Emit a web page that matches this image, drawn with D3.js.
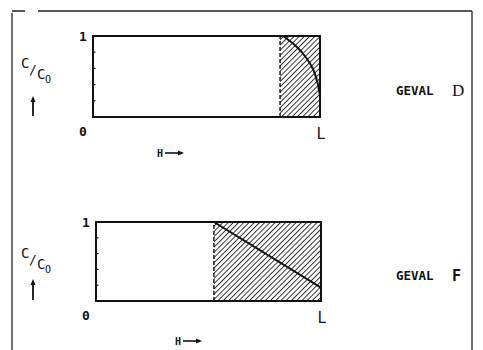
<!DOCTYPE html>
<html>
<head>
<meta charset="utf-8">
<script src="https://cdn.jsdelivr.net/npm/d3@7"></script>
<style>
  html, body { margin: 0; padding: 0; background: #fff; }
  svg { display: block; }
  text { font-family: "DejaVu Sans Mono", "Liberation Mono", monospace; fill: #111; }
</style>
</head>
<body>
<svg id="chart" width="483" height="350"></svg>
<script>
// Case labels for the two panels
const cases = ["D", "F"];
// Start of the hatched zone along H (fraction of L)
const hatchStart = [0.824, 0.524];
// C/C0 profile, case D (h as fraction of L, c as C/C0)
const profileD = [
  [0.838, 1.0], [0.897, 0.868], [0.941, 0.725], [0.971, 0.58],
  [0.988, 0.436], [0.997, 0.312], [1.0, 0.27]
];
// C/C0 profile, case F (straight line)
const profileF = [[0.524, 1.0], [1.0, 0.17]];
// Minor ticks on the C/C0 axis
const minorTicks = [0.2, 0.4, 0.6, 0.8];
// Axis end labels
const yLabels = ["0", "1"];
const xEndLabel = "L";

const svg = d3.select("#chart");
const ink = "#111";

// Hatch pattern "/"
const step = 3.7;
const defs = svg.append("defs");
defs.append("pattern")
  .attr("id", "hatch")
  .attr("patternUnits", "userSpaceOnUse")
  .attr("width", step).attr("height", step)
  .attr("patternTransform", "rotate(45)")
  .append("line")
  .attr("x1", 0.5).attr("y1", 0).attr("x2", 0.5).attr("y2", step)
  .attr("stroke", ink).attr("stroke-width", 0.85);

// Outer frame (top and sides)
const frame = svg.append("g").attr("stroke", "#222").attr("stroke-width", 1.3).attr("fill", "none");
frame.append("path").attr("d", "M12,11 H25 M38,11 H472");
frame.append("path").attr("d", "M12,13 V350");
frame.append("path").attr("d", "M472,11 V350");

const panels = [
  { box: { x0: 93, x1: 320, y0: 117, y1: 36 }, profile: profileD,
    curve: d3.curveMonotoneY, hx: 160, hy: 153, labelY: 90, cy: 58, arrowY: [116, 96] },
  { box: { x0: 96, x1: 321, y0: 301, y1: 222 }, profile: profileF,
    curve: d3.curveLinear, hx: 178, hy: 341, labelY: 275, cy: 248, arrowY: [300, 279] }
];

panels.forEach((p, i) => {
  const x = d3.scaleLinear().domain([0, 1]).range([p.box.x0, p.box.x1]);
  const y = d3.scaleLinear().domain([0, 1]).range([p.box.y0, p.box.y1]);
  const g = svg.append("g");

  // Hatched zone
  g.append("rect")
    .attr("x", x(hatchStart[i])).attr("y", y(1))
    .attr("width", x(1) - x(hatchStart[i])).attr("height", y(0) - y(1))
    .attr("fill", "url(#hatch)");

  // Dashed boundary of hatched zone
  g.append("line")
    .attr("x1", x(hatchStart[i])).attr("x2", x(hatchStart[i]))
    .attr("y1", y(0)).attr("y2", y(1))
    .attr("stroke", ink).attr("stroke-width", 1.4)
    .attr("stroke-dasharray", "4,2");

  // Panel outline
  g.append("rect")
    .attr("x", x(0)).attr("y", y(1))
    .attr("width", x(1) - x(0)).attr("height", y(0) - y(1))
    .attr("fill", "none").attr("stroke", ink).attr("stroke-width", 2);

  // Minor ticks on left edge, pointing inward
  g.selectAll(".tick").data(minorTicks).join("line")
    .attr("x1", x(0)).attr("x2", x(0) + 2.5)
    .attr("y1", d => y(d)).attr("y2", d => y(d))
    .attr("stroke", ink).attr("stroke-width", 1.2);

  // Concentration profile
  g.append("path")
    .datum(p.profile)
    .attr("d", d3.line().x(d => x(d[0])).y(d => y(d[1])).curve(p.curve))
    .attr("fill", "none").attr("stroke", ink).attr("stroke-width", 2);

  // Axis labels
  g.append("text").attr("x", x(0) - 10).attr("y", y(1) + 5)
    .attr("text-anchor", "middle").attr("font-size", 13).attr("font-weight", "bold").text(yLabels[1]);
  g.append("text").attr("x", x(0) - 10).attr("y", y(0) + 19)
    .attr("text-anchor", "middle").attr("font-size", 13).attr("font-weight", "bold").text(yLabels[0]);
  g.append("text").attr("x", x(1) + 1).attr("y", y(0) + 22)
    .attr("text-anchor", "middle").attr("font-size", 15).text(xEndLabel);

  // H with arrow
  g.append("text").attr("x", p.hx).attr("y", p.hy + 4)
    .attr("text-anchor", "middle").attr("font-size", 10).attr("font-weight", "bold").text("H");
  g.append("line").attr("x1", p.hx + 5).attr("x2", p.hx + 22)
    .attr("y1", p.hy).attr("y2", p.hy).attr("stroke", ink).attr("stroke-width", 1.6);
  g.append("path")
    .attr("d", `M${p.hx + 24},${p.hy} l-6,-2.5 v5 z`).attr("fill", ink);

  // C/C0 label
  const c = g.append("g").attr("font-size", 14);
  c.append("text").attr("x", 21).attr("y", p.cy + 10).text("C");
  c.append("text").attr("x", 29).attr("y", p.cy + 16).attr("font-size", 13).text("/");
  c.append("text").attr("x", 37).attr("y", p.cy + 21).text("C");
  c.append("text").attr("x", 45).attr("y", p.cy + 25).attr("font-size", 10).text("O");

  // Upward arrow
  g.append("line").attr("x1", 33).attr("x2", 33)
    .attr("y1", p.arrowY[0]).attr("y2", p.arrowY[1] + 4)
    .attr("stroke", ink).attr("stroke-width", 1.8);
  g.append("path")
    .attr("d", `M33,${p.arrowY[1]} l-2.5,6 h5 z`).attr("fill", ink);

  // Case label
  g.append("text").attr("x", 396).attr("y", p.labelY + 5)
    .attr("font-size", 12.5).attr("font-weight", "bold").text("GEVAL");
  g.append("text").attr("x", 452).attr("y", p.labelY + 6)
    .style("font-family", i === 0 ? "'Liberation Serif', serif" : "'DejaVu Sans Mono', monospace")
    .attr("font-weight", i === 0 ? "normal" : "bold")
    .attr("font-size", i === 0 ? 17 : 15).text(cases[i]);
});
</script>
</body>
</html>
